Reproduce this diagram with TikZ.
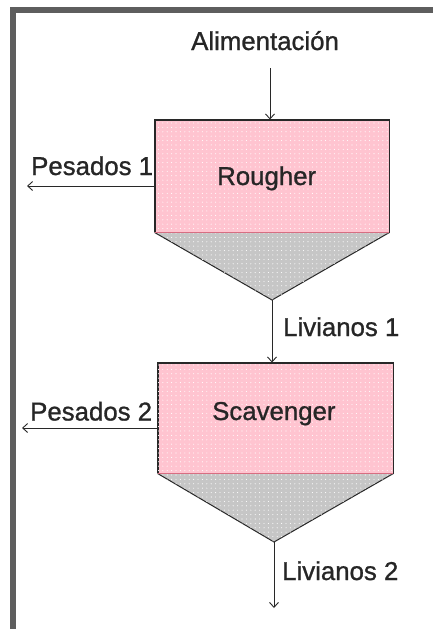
\documentclass[tikz,border=0pt]{standalone}
\usepackage{fontspec}
\setmainfont[FakeBold=1]{Liberation Sans}
\usetikzlibrary{arrows.meta,patterns.meta}
\definecolor{framegray}{RGB}{94,94,94}
\definecolor{cellpink}{RGB}{255,196,208}
\definecolor{conegray}{RGB}{198,198,198}
\definecolor{edgered}{RGB}{215,110,130}
\definecolor{linegray}{RGB}{40,40,40}
\tikzset{
  lbl/.style={font=\fontsize{25.8}{31}\selectfont, text=black!85, inner sep=0pt, anchor=base west},
  cell/.style={draw=linegray, line width=0.9pt, fill=cellpink, inner sep=0pt},
  cone/.style={draw=linegray, line width=1pt, fill=conegray},
  dotfill/.style={pattern={Dots[distance=4.4pt,radius=0.55pt]}, pattern color=white},
  arr/.style={draw=linegray, line width=0.9pt, -{Straight Barb[length=5pt,width=9pt]}},
}
\begin{document}
\begin{tikzpicture}[x=1pt,y=-1pt]
\useasboundingbox (0,0) rectangle (433,629);
\fill[white] (0,0) rectangle (433,629);
% frame
\fill[framegray] (10,7) rectangle (433,13);
\fill[framegray] (10,7) rectangle (16,629);

% Rougher
\node[cell, minimum width=234pt, minimum height=112pt] (r) at (272,176) {};
\fill[dotfill] (r.south west) rectangle (r.north east);
\coordinate (a1) at (272,300);
\path[cone] (r.south west) -- (a1) -- (r.south east);
\fill[dotfill] (r.south west) -- (a1) -- (r.south east) -- cycle;
\draw[linegray, line width=0.9pt] (r.south east) -- (r.north east) -- (r.north west) -- (r.south west);
\draw[edgered, line width=1pt] (r.south west) -- (r.south east);

% Scavenger
\node[cell, minimum width=235pt, minimum height=110pt] (s) at (275.5,418) {};
\fill[dotfill] (s.south west) rectangle (s.north east);
\coordinate (a2) at (274,542);
\path[cone] (s.south west) -- (a2) -- (s.south east);
\fill[dotfill] (s.south west) -- (a2) -- (s.south east) -- cycle;
\draw[linegray, line width=0.9pt] (s.south east) -- (s.north east) -- (s.north west) -- (s.south west);
\draw[edgered, line width=1pt] (s.south west) -- (s.south east);

% labels
\node[lbl] (alim) at (191,50) {Alimentación};
\node[lbl] (rt) at (217,185) {Rougher};
\node[lbl] (p1) at (31,175) {Pesados 1};
\node[lbl] (l1) at (283,336) {Livianos 1};
\node[lbl] (p2) at (30,420.5) {Pesados 2};
\node[lbl] (st) at (212,420) {Scavenger};
\node[lbl] (l2) at (282,580) {Livianos 2};

% connectors
\coordinate (in1) at (270,68);
\coordinate (p1end) at (27,186);
\coordinate (p2end) at (22,428);
\coordinate (l2end) at (274,608);
\draw[arr] (in1) -- (in1 |- r.north);
\draw[arr] (r.west |- p1end) -- (p1end);
\draw[arr] (a1) -- (a1 |- s.north);
\draw[arr] (s.west |- p2end) -- (p2end);
\draw[arr] (a2) -- (l2end);
\end{tikzpicture}
\end{document}
